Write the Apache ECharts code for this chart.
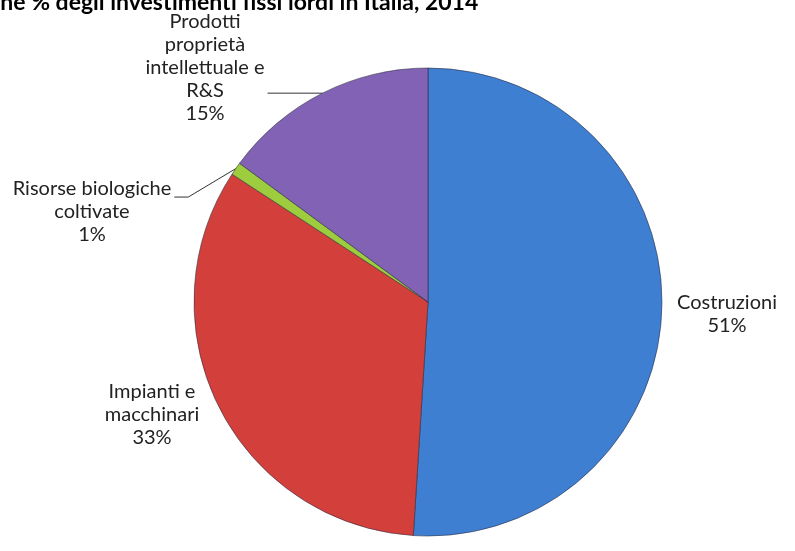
<!DOCTYPE html>
<html><head><meta charset="utf-8">
<script src="https://cdn.jsdelivr.net/npm/echarts@6/dist/echarts.min.js"></script>
<style>html,body{margin:0;padding:0;background:#fff}#c{width:795px;height:551px}</style>
</head><body><div id="c"></div>
<script>
const titleText = 'Composizione % degli investimenti fissi lordi in Italia, 2014';
const categories = ['Costruzioni', 'Impianti e macchinari', 'Risorse biologiche coltivate', 'Prodotti proprietà intellettuale e R&S'];
const labelTexts = ['Costruzioni', 'Impianti e\nmacchinari', 'Risorse biologiche\ncoltivate', 'Prodotti\nproprietà\nintellettuale e\nR&S'];
const values = [51.0, 33.2, 0.9, 14.9];
const colors = ['#3e7fd2', '#d3403b', '#9dcc3e', '#8262b5'];
const showLine = [false, false, true, true];

const labelPos = [[727, 314], [152, 415], [92, 212], [205, 68]];
const LH = 23;

const chart = echarts.init(document.getElementById('c'), null, {renderer: 'canvas'});
chart.setOption({
  backgroundColor: '#fff',
  animation: false,
  title: {
    text: titleText, left: -124, top: -14,
    textStyle: {fontFamily: 'Lato', fontSize: 23, fontWeight: 'bold', color: '#000'}
  },
  series: [{
    type: 'pie',
    center: [428, 302],
    radius: 234,
    startAngle: 90,
    clockwise: true,
    percentPrecision: 0,
    data: categories.map((c, i) => ({
      name: c, value: values[i],
      itemStyle: {color: colors[i]},
      labelLine: {show: showLine[i]}
    })),
    itemStyle: {borderColor: 'rgba(40,40,60,0.55)', borderWidth: 1},
    label: {
      show: true, position: 'outside', overflow: 'none',
      formatter: p => labelTexts[p.dataIndex] + '\n' + Math.round(p.percent) + '%',
      fontFamily: 'Lato', fontSize: 20, lineHeight: LH, color: '#222', align: 'center'
    },
    labelLine: {lineStyle: {color: '#333', width: 1}, length: 15, length2: 20},
    labelLayout: p => {
      const i = p.dataIndex;
      const x = labelPos[i][0], y = labelPos[i][1];
      const out = {x: x, y: y, align: 'center', verticalAlign: 'middle'};
      if (showLine[i] && p.labelLinePoints) {
        const edge = p.labelLinePoints[0];
        const w = p.labelRect.width, h = p.labelRect.height;
        const right = x + w / 2 + 3;
        if (i === 2) {
          const ly = y - h / 2 + LH * 0.85;
          out.labelLinePoints = [edge, [right + 14, ly], [right, ly]];
        } else {
          out.labelLinePoints = [edge, [right, edge[1]], [right, edge[1]]];
        }
      }
      return out;
    },
    emphasis: {disabled: true}
  }]
});
</script></body></html>
